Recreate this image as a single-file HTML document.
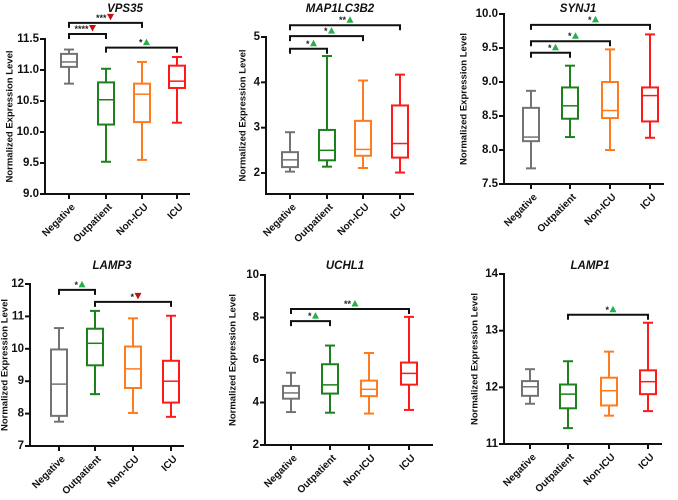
<!DOCTYPE html>
<html><head><meta charset="utf-8">
<style>
html,body{margin:0;padding:0;background:#fff;}
svg{display:block;font-family:"Liberation Sans",Arial,sans-serif;}
</style></head>
<body>
<svg id="chart" width="678" height="500" viewBox="0 0 678 500"></svg>
<script>
const categories = ["Negative","Outpatient","Non-ICU","ICU"];
const colors = ["#737373","#1c801c","#ff7b1f","#ff1a1a"];
// box stats: [min,q1,median,q3,max] per category
const vps35 = [[10.78,11.05,11.13,11.26,11.33],[9.52,10.12,10.52,10.80,11.02],[9.55,10.16,10.61,10.78,11.13],[10.15,10.71,10.82,11.07,11.21]];
const map1lc3b2 = [[2.03,2.13,2.29,2.46,2.90],[2.14,2.28,2.50,2.95,4.58],[2.11,2.38,2.52,3.15,4.04],[2.01,2.34,2.65,3.49,4.17]];
const synj1 = [[7.73,8.13,8.19,8.62,8.87],[8.19,8.46,8.65,8.92,9.24],[8.00,8.47,8.58,9.00,9.48],[8.18,8.42,8.80,8.92,9.70]];
const lamp3 = [[7.75,7.93,8.91,9.98,10.64],[8.60,9.49,10.17,10.62,11.17],[8.02,8.79,9.38,10.07,10.94],[7.90,8.34,9.00,9.63,11.02]];
const uchl1 = [[3.55,4.18,4.45,4.78,5.40],[3.52,4.42,4.83,5.80,6.68],[3.48,4.30,4.62,5.03,6.33],[3.65,4.84,5.37,5.88,8.03]];
const lamp1 = [[11.71,11.85,12.01,12.11,12.32],[11.28,11.63,11.88,12.05,12.46],[11.50,11.68,11.94,12.17,12.63],[11.58,11.88,12.10,12.30,13.14]];
// tick labels
const ticks1 = ["9.0","9.5","10.0","10.5","11.0","11.5"];
const ticks2 = ["2","3","4","5"];
const ticks3 = ["7.5","8.0","8.5","9.0","9.5","10.0"];
const ticks4 = ["7","8","9","10","11","12"];
const ticks5 = ["2","4","6","8","10"];
const ticks6 = ["11","12","13","14"];
// significance brackets: [fromIdx,toIdx,level,stars,direction]
const sig1 = [[0,2,11.76,"***","down"],[0,1,11.58,"****","down"],[1,3,11.36,"*","up"]];
const sig2 = [[0,3,5.26,"**","up"],[0,2,5.02,"*","up"],[0,1,4.74,"*","up"]];
const sig3 = [[0,3,9.84,"*","up"],[0,2,9.60,"*","up"],[0,1,9.43,"*","up"]];
const sig4 = [[0,1,11.82,"*","up"],[1,3,11.45,"*","down"]];
const sig5 = [[0,3,8.40,"**","up"],[0,1,7.83,"*","up"]];
const sig6 = [[1,3,13.28,"*","up"]];

const panels = [
 {name:"vps35",title:"VPS35",data:vps35,ticks:ticks1,sig:sig1,ax:45,yTop:39,yBot:194,vTop:11.5,vBot:9.0,cx:[69,106,142,177],xEnd:190,tx:125,ty:12,lx:10},
 {name:"map1lc3b2",title:"MAP1LC3B2",data:map1lc3b2,ticks:ticks2,sig:sig2,ax:266,yTop:37,yBot:173,vTop:5,vBot:2,axBot:194,cx:[290,327,363,400],xEnd:414,tx:340,ty:12,lx:243},
 {name:"synj1",title:"SYNJ1",data:synj1,ticks:ticks3,sig:sig3,ax:504,yTop:14,yBot:184,vTop:10,vBot:7.5,cx:[531,570,610,650],xEnd:664,tx:578,ty:12,lx:464},
 {name:"lamp3",title:"LAMP3",data:lamp3,ticks:ticks4,sig:sig4,ax:30,yTop:284,yBot:446,vTop:12,vBot:7,cx:[59,95,133,171],xEnd:184,tx:112,ty:269,lx:5},
 {name:"uchl1",title:"UCHL1",data:uchl1,ticks:ticks5,sig:sig5,ax:265,yTop:275,yBot:445,vTop:10,vBot:2,cx:[291,330,369,409],xEnd:433,tx:345,ty:269,lx:233},
 {name:"lamp1",title:"LAMP1",data:lamp1,ticks:ticks6,sig:sig6,ax:504,yTop:274,yBot:444,vTop:14,vBot:11,cx:[530,568,609,648],xEnd:662,tx:590,ty:269,lx:475}
];
const NS="http://www.w3.org/2000/svg";
const svg=document.getElementById("chart");
function mk(tag,attrs,parent,text){const e=document.createElementNS(NS,tag);for(const k in attrs)e.setAttribute(k,attrs[k]);if(text!==undefined)e.textContent=text;(parent||svg).appendChild(e);return e;}

panels.forEach(p=>{
  const g=mk("g",{});
  
  
  const y=v=>p.yBot-(v-p.vBot)*(p.yBot-p.yTop)/(p.vTop-p.vBot);
  const axBot=p.axBot||p.yBot;
  const t=mk("text",{x:p.tx,y:p.ty,"text-anchor":"middle","font-size":"11.5","font-weight":"bold","font-style":"italic",fill:"#111"},g,p.title);
  
  
  const cy=(p.yTop+axBot)/2;
  const yl=mk("text",{x:p.lx,y:cy,transform:`rotate(-90 ${p.lx} ${cy})`,"text-anchor":"middle","dominant-baseline":"central","font-size":"9.5","font-weight":"bold",fill:"#111"},g,"Normalized Expression Level");
  
  
  const ya=mk("line",{x1:p.ax,y1:p.yTop-1,x2:p.ax,y2:axBot+1,stroke:"#111","stroke-width":2},g);
  
  
  const xa=mk("line",{x1:p.ax-1,y1:axBot,x2:p.xEnd,y2:axBot,stroke:"#111","stroke-width":2},g);
  
  
  p.ticks.forEach(tl=>{
    const yy=y(parseFloat(tl));
    mk("line",{x1:p.ax-5,y1:yy,x2:p.ax,y2:yy,stroke:"#111","stroke-width":2},g);
    const tt=mk("text",{x:p.ax-6,y:yy,"text-anchor":"end","dominant-baseline":"central","font-size":"11.5","font-weight":"bold",fill:"#111"},g,tl);
    
    
  });
  categories.forEach((c,i)=>{
    const x=p.cx[i];
    mk("line",{x1:x,y1:axBot,x2:x,y2:axBot+5,stroke:"#111","stroke-width":2},g);
    const lx=x+2, ly=axBot+9;
    const xl=mk("text",{x:lx,y:ly,transform:`rotate(-45 ${lx} ${ly})`,"text-anchor":"end","dominant-baseline":"hanging","font-size":"10","font-weight":"bold",fill:"#111"},g,c);
    
    
    const d=p.data[i], col=colors[i], bw=16, cw=10;
    const bg=mk("g",{stroke:col,"stroke-width":2,fill:"none"},g);
    
    
    mk("line",{x1:x,y1:y(d[0]),x2:x,y2:y(d[1])},bg);
    mk("line",{x1:x,y1:y(d[3]),x2:x,y2:y(d[4])},bg);
    mk("line",{x1:x-cw/2,y1:y(d[0]),x2:x+cw/2,y2:y(d[0])},bg);
    mk("line",{x1:x-cw/2,y1:y(d[4]),x2:x+cw/2,y2:y(d[4])},bg);
    mk("rect",{x:x-bw/2,y:y(d[3]),width:bw,height:y(d[1])-y(d[3])},bg);
    mk("line",{x1:x-bw/2,y1:y(d[2]),x2:x+bw/2,y2:y(d[2]),"stroke-width":1.5},bg);
  });
  p.sig.forEach(s=>{
    const sg=mk("g",{},g);
    
    
    const x1=p.cx[s[0]],x2=p.cx[s[1]],yy=y(s[2]);
    mk("path",{d:`M${x1} ${yy+5}V${yy}H${x2}V${yy+5}`,stroke:"#111","stroke-width":2,fill:"none"},sg);
    const mid=(x1+x2)/2;
    mk("text",{x:mid+1,y:yy-2,"text-anchor":"end","font-size":"9","font-weight":"bold",fill:"#222"},sg,s[3]);
    const tx=mid+5;
    if(s[4]==="up") mk("path",{d:`M${tx-3.5} ${yy-2.5}L${tx+3.5} ${yy-2.5}L${tx} ${yy-9}Z`,fill:"#25b04a"},sg);
    else mk("path",{d:`M${tx-3.5} ${yy-9}L${tx+3.5} ${yy-9}L${tx} ${yy-2.5}Z`,fill:"#c40f0f"},sg);
  });
});
</script>
</body></html>
